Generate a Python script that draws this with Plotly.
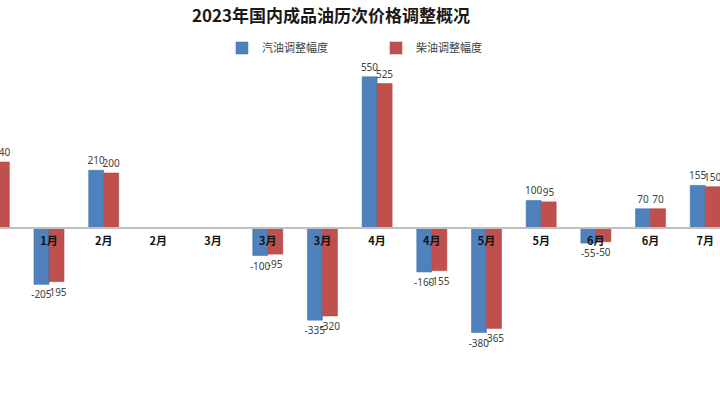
import plotly.graph_objects as go

categories = ["1月", "1月", "2月", "2月", "3月", "3月", "3月", "4月", "4月", "5月", "5月", "6月", "6月", "7月"]
gasoline = [250, -205, 210, 0, 0, -100, -335, 550, -160, -380, 100, -55, 70, 155]
diesel = [240, -195, 200, 0, 0, -95, -320, 525, -155, -365, 95, -50, 70, 150]
series_names = ["汽油调整幅度", "柴油调整幅度"]
title_text = "2023年国内成品油历次价格调整概况"

xpos = list(range(len(categories)))
ymin, ymax = -643.6, 829.0
zero_frac = -ymin / (ymax - ymin)

def labels(vals):
    return [str(v) if v != 0 else "" for v in vals]

fig = go.Figure()
fig.add_trace(go.Bar(
    x=xpos, y=gasoline, name=series_names[0],
    marker=dict(color="#4f81bd", line=dict(color="#3f6fa8", width=0.5)),
    text=labels(gasoline), textposition="outside", constraintext="none",
    textfont=dict(size=10, color="#404040", family="Noto Sans"),
    cliponaxis=False,
))
fig.add_trace(go.Bar(
    x=xpos, y=diesel, name=series_names[1],
    marker=dict(color="#c0504d", line=dict(color="#a8403d", width=0.5)),
    text=labels(diesel), textposition="outside", constraintext="none",
    textfont=dict(size=10, color="#404040", family="Noto Sans"),
    cliponaxis=False,
))

fig.update_layout(
    width=720, height=405,
    margin=dict(l=0, r=0, t=0, b=0),
    paper_bgcolor="white", plot_bgcolor="white",
    barmode="group", bargap=0.45, bargroupgap=0,
    title=dict(text="<b>" + title_text + "</b>", x=331 / 720, xanchor="center",
               y=1 - 16 / 405, yanchor="middle",
               font=dict(size=17, color="#1a1a1a", family="Noto Sans CJK SC")),
    legend=dict(orientation="h", x=222 / 720, xanchor="left", y=1 - 48 / 405, yanchor="middle",
                font=dict(size=11, color="#404040", family="Noto Sans CJK SC"),
                bgcolor="rgba(0,0,0,0)", entrywidth=109, itemwidth=30),
    font=dict(family="Noto Sans CJK SC"),
    xaxis=dict(range=[0.104, 13.27], tickvals=xpos, ticktext=categories,
               anchor="free", position=zero_frac,
               showline=True, linecolor="#bfbfbf", linewidth=1.5,
               ticks="", showgrid=False, zeroline=False, ticklabelstandoff=3,
               tickfont=dict(size=11, color="#111111", family="Noto Sans CJK SC", weight="bold")),
    yaxis=dict(range=[ymin, ymax], visible=False, showgrid=False, zeroline=False),
)

fig.write_html("out.html", config={"displayModeBar": False},
               post_script="document.body.style.margin='0';")
